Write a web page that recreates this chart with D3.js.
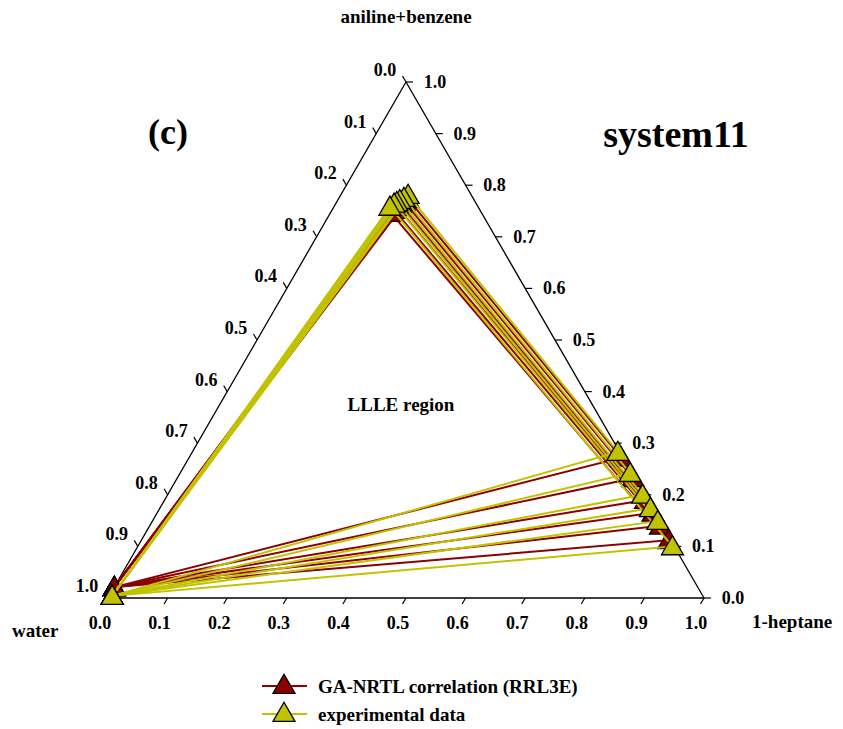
<!DOCTYPE html>
<html>
<head>
<meta charset="utf-8">
<script src="https://cdn.jsdelivr.net/npm/d3@7"></script>
<style>
  body { margin: 0; background: #fff; }
  text { font-family: "Liberation Serif", "Times New Roman", serif; font-weight: bold; fill: #000; }
</style>
</head>
<body>
<div id="chart"></div>
<script>
// compositions are [water, aniline+benzene, 1-heptane]
const tickValues = [0.0, 0.1, 0.2, 0.3, 0.4, 0.5, 0.6, 0.7, 0.8, 0.9, 1.0];

const expWaterRich = [
  [0.991, 0.004, 0.005], [0.991, 0.004, 0.005], [0.991, 0.004, 0.005],
  [0.991, 0.004, 0.005], [0.991, 0.004, 0.005], [0.991, 0.004, 0.005]
];
const expAnilineRich = [
  [0.106, 0.781, 0.113], [0.116, 0.775, 0.109], [0.125, 0.771, 0.104],
  [0.132, 0.767, 0.101], [0.138, 0.764, 0.098], [0.148, 0.758, 0.094]
];
const expHeptaneRich = [
  [0.003, 0.283, 0.714], [0.003, 0.242, 0.755], [0.003, 0.200, 0.797],
  [0.003, 0.174, 0.823], [0.003, 0.149, 0.848], [0.003, 0.100, 0.897]
];

const modWaterRich = [
  [0.979, 0.021, 0.000], [0.979, 0.021, 0.000], [0.979, 0.021, 0.000],
  [0.979, 0.021, 0.000], [0.979, 0.021, 0.000], [0.979, 0.021, 0.000]
];
const modAnilineRich = [
  [0.110, 0.773, 0.117], [0.119, 0.768, 0.113], [0.128, 0.763, 0.109],
  [0.136, 0.758, 0.106], [0.144, 0.752, 0.104], [0.152, 0.746, 0.102]
];
const modHeptaneRich = [
  [0.003, 0.272, 0.725], [0.003, 0.232, 0.765], [0.003, 0.190, 0.807],
  [0.003, 0.165, 0.832], [0.003, 0.140, 0.857], [0.003, 0.112, 0.885]
];

const width = 843, height = 729;
const redCol = "#8b0000", yelCol = "#c2c200";

const svg = d3.select("#chart").append("svg")
  .attr("width", width)
  .attr("height", height);

// x runs along the base (water -> heptane), y is the aniline+benzene height
const x = d3.scaleLinear().domain([0, 1]).range([108, 704]);
const y = d3.scaleLinear().domain([0, 1]).range([598, 82]);

function project(c) {
  return [x(c[2] + c[1] / 2), y(c[1])];
}

// frame
const W = [1, 0, 0], A = [0, 1, 0], H = [0, 0, 1];
svg.append("path")
  .attr("d", d3.line()([project(W), project(A), project(H)]) + "Z")
  .attr("fill", "none")
  .attr("stroke", "#000")
  .attr("stroke-width", 1.3);

let tickLen = 7;
let axisG = svg.append("g");

// left axis: water fraction, 0 at top, 1 at water corner
tickValues.forEach(v => {
  let p = project([v, 1 - v, 0]);
  axisG.append("line")
    .attr("x1", p[0]).attr("y1", p[1])
    .attr("x2", p[0] - tickLen * 0.5).attr("y2", p[1] - tickLen * 0.866)
    .attr("stroke", "#000").attr("stroke-width", 1.2);
  axisG.append("text")
    .attr("x", p[0] - 21).attr("y", p[1] - 12)
    .attr("text-anchor", "middle")
    .attr("dominant-baseline", "central")
    .style("font-size", "18px")
    .text(v.toFixed(1));
});

// right axis: aniline+benzene fraction
tickValues.forEach(v => {
  let p = project([0, v, 1 - v]);
  axisG.append("line")
    .attr("x1", p[0]).attr("y1", p[1])
    .attr("x2", p[0] + tickLen).attr("y2", p[1])
    .attr("stroke", "#000").attr("stroke-width", 1.2);
  axisG.append("text")
    .attr("x", p[0] + 29).attr("y", p[1])
    .attr("text-anchor", "middle")
    .attr("dominant-baseline", "central")
    .style("font-size", "18px")
    .text(v.toFixed(1));
});

// bottom axis: heptane fraction
tickValues.forEach(v => {
  let p = project([1 - v, 0, v]);
  axisG.append("line")
    .attr("x1", p[0]).attr("y1", p[1])
    .attr("x2", p[0] - tickLen * 0.5).attr("y2", p[1] + tickLen * 0.866)
    .attr("stroke", "#000").attr("stroke-width", 1.2);
  axisG.append("text")
    .attr("x", p[0] - 8).attr("y", p[1] + 25)
    .attr("text-anchor", "middle")
    .attr("dominant-baseline", "central")
    .style("font-size", "18px")
    .text(v.toFixed(1));
});

const tri = d3.symbol().type(d3.symbolTriangle).size(210);

function drawSeries(wr, ar, hr, color) {
  let g = svg.append("g");
  wr.forEach((d, i) => {
    let pts = [project(wr[i]), project(ar[i]), project(hr[i])];
    g.append("path")
      .attr("d", d3.line()(pts) + "Z")
      .attr("fill", "none")
      .attr("stroke", color)
      .attr("stroke-width", 2);
  });
  let all = wr.concat(ar, hr);
  g.selectAll(".mk")
    .data(all)
    .enter()
    .append("path")
    .attr("class", "mk")
    .attr("d", tri)
    .attr("transform", d => `translate(${project(d)[0]}, ${project(d)[1] + 2})`)
    .attr("fill", color)
    .attr("stroke", "#000")
    .attr("stroke-width", 1.3);
}

drawSeries(modWaterRich, modAnilineRich, modHeptaneRich, redCol);
drawSeries(expWaterRich, expAnilineRich, expHeptaneRich, yelCol);

// labels
svg.append("text").attr("x", 406).attr("y", 16)
  .attr("text-anchor", "middle").attr("dominant-baseline", "central")
  .style("font-size", "19px").text("aniline+benzene");
svg.append("text").attr("x", 12).attr("y", 630)
  .attr("dominant-baseline", "central")
  .style("font-size", "19px").text("water");
svg.append("text").attr("x", 752).attr("y", 621)
  .attr("dominant-baseline", "central")
  .style("font-size", "19px").text("1-heptane");
svg.append("text").attr("x", 168).attr("y", 132)
  .attr("text-anchor", "middle").attr("dominant-baseline", "central")
  .style("font-size", "36px").text("(c)");
svg.append("text").attr("x", 676).attr("y", 134)
  .attr("text-anchor", "middle").attr("dominant-baseline", "central")
  .style("font-size", "38px").text("system11");
svg.append("text").attr("x", 401).attr("y", 404)
  .attr("text-anchor", "middle").attr("dominant-baseline", "central")
  .style("font-size", "19px").text("LLLE region");

// legend
const legendItems = ["GA-NRTL correlation (RRL3E)", "experimental data"];
const legendColors = [redCol, yelCol];
let leg = svg.append("g");
legendItems.forEach((name, i) => {
  let ly = 686 + i * 28;
  leg.append("line")
    .attr("x1", 262).attr("x2", 307).attr("y1", ly).attr("y2", ly)
    .attr("stroke", legendColors[i]).attr("stroke-width", 2);
  leg.append("path")
    .attr("d", tri)
    .attr("transform", `translate(284, ${ly + 1})`)
    .attr("fill", legendColors[i])
    .attr("stroke", "#000")
    .attr("stroke-width", 1.3);
  leg.append("text")
    .attr("x", 318).attr("y", ly)
    .attr("dominant-baseline", "central")
    .style("font-size", "19px")
    .text(name);
});
</script>
</body>
</html>
